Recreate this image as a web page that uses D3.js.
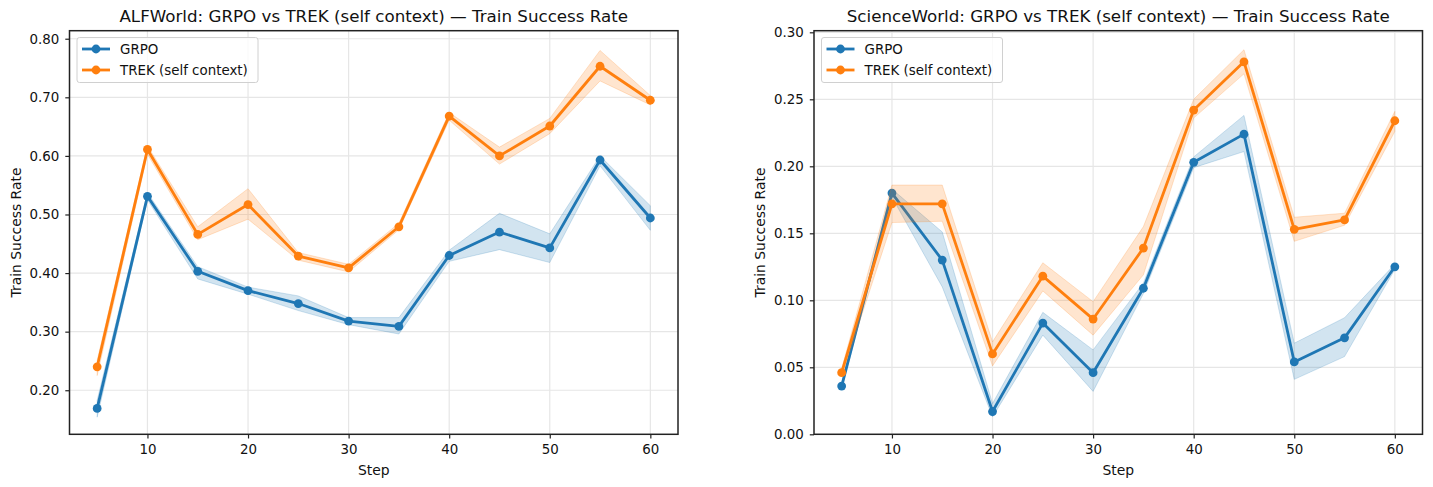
<!DOCTYPE html>
<html>
<head>
<meta charset="utf-8">
<script src="https://cdn.jsdelivr.net/npm/d3@7"></script>
<style>
  body { margin: 0; background: #fff; }
  svg { font-family: "DejaVu Sans", sans-serif; }
</style>
</head>
<body>
<div id="chart"></div>
<script>
// training steps shared by both panels
var steps = [5, 10, 15, 20, 25, 30, 35, 40, 45, 50, 55, 60];

// ALFWorld
var alfGrpo   = [0.169, 0.531, 0.403, 0.370, 0.348, 0.318, 0.309, 0.430, 0.470, 0.443, 0.593, 0.494];
var alfGrpoLo = [0.154, 0.525, 0.390, 0.364, 0.336, 0.312, 0.296, 0.420, 0.440, 0.418, 0.583, 0.473];
var alfGrpoHi = [0.183, 0.537, 0.411, 0.376, 0.361, 0.324, 0.324, 0.439, 0.502, 0.467, 0.600, 0.515];
var alfTrek   = [0.240, 0.611, 0.466, 0.517, 0.429, 0.409, 0.479, 0.668, 0.600, 0.651, 0.753, 0.695];
var alfTrekLo = [0.225, 0.603, 0.457, 0.492, 0.422, 0.402, 0.474, 0.661, 0.586, 0.638, 0.728, 0.687];
var alfTrekHi = [0.251, 0.617, 0.479, 0.544, 0.435, 0.415, 0.485, 0.674, 0.615, 0.664, 0.780, 0.703];

// ScienceWorld
var sciGrpo   = [0.036, 0.180, 0.130, 0.017, 0.083, 0.046, 0.109, 0.203, 0.224, 0.054, 0.072, 0.125];
var sciGrpoLo = [0.034, 0.177, 0.110, 0.013, 0.074, 0.032, 0.105, 0.199, 0.211, 0.041, 0.058, 0.123];
var sciGrpoHi = [0.038, 0.183, 0.151, 0.023, 0.091, 0.063, 0.113, 0.207, 0.238, 0.068, 0.087, 0.127];
var sciTrek   = [0.046, 0.172, 0.172, 0.060, 0.118, 0.086, 0.139, 0.242, 0.278, 0.153, 0.160, 0.234];
var sciTrekLo = [0.043, 0.158, 0.159, 0.051, 0.107, 0.074, 0.119, 0.236, 0.269, 0.144, 0.156, 0.226];
var sciTrekHi = [0.049, 0.186, 0.186, 0.069, 0.128, 0.099, 0.155, 0.250, 0.287, 0.162, 0.165, 0.241];

var alfYTicks = [0.20, 0.30, 0.40, 0.50, 0.60, 0.70, 0.80];
var sciYTicks = [0.00, 0.05, 0.10, 0.15, 0.20, 0.25, 0.30];
var xTicks = [10, 20, 30, 40, 50, 60];

var seriesNames = ["GRPO", "TREK (self context)"];
var colors = ["#1f77b4", "#ff7f0e"];

var svg = d3.select("#chart")
    .append("svg")
    .attr("width", 1433)
    .attr("height", 487);

drawPanel({
  left: 69.5, top: 30.7, width: 608.5, height: 403.6,
  title: "ALFWorld: GRPO vs TREK (self context) \u2014 Train Success Rate",
  yDomain: [0.1248, 0.8137], yTicks: alfYTicks, ylabelX: 16,
  series: [
    {mean: alfGrpo, lo: alfGrpoLo, hi: alfGrpoHi},
    {mean: alfTrek, lo: alfTrekLo, hi: alfTrekHi}
  ]
});

drawPanel({
  left: 814, top: 30.7, width: 608.5, height: 403.6,
  title: "ScienceWorld: GRPO vs TREK (self context) \u2014 Train Success Rate",
  yDomain: [0, 0.3012], yTicks: sciYTicks, ylabelX: 760,
  series: [
    {mean: sciGrpo, lo: sciGrpoLo, hi: sciGrpoHi},
    {mean: sciTrek, lo: sciTrekLo, hi: sciTrekHi}
  ]
});

function drawPanel(p) {

  var g = svg.append("g")
      .attr("transform", "translate(" + p.left + "," + p.top + ")");

  var xScale = d3.scaleLinear()
      .domain([2.25, 62.75])
      .range([0, p.width]);

  var yScale = d3.scaleLinear()
      .domain(p.yDomain)
      .range([p.height, 0]);

  // grid
  g.append("g").selectAll("line.gx")
      .data(xTicks)
      .enter().append("line")
      .attr("x1", function(d) { return xScale(d); })
      .attr("x2", function(d) { return xScale(d); })
      .attr("y1", 0)
      .attr("y2", p.height)
      .attr("stroke", "#e6e6e6")
      .attr("stroke-width", 1.2);

  g.append("g").selectAll("line.gy")
      .data(p.yTicks)
      .enter().append("line")
      .attr("x1", 0)
      .attr("x2", p.width)
      .attr("y1", function(d) { return yScale(d); })
      .attr("y2", function(d) { return yScale(d); })
      .attr("stroke", "#e6e6e6")
      .attr("stroke-width", 1.2);

  var area = d3.area()
      .x(function(d, i) { return xScale(steps[i]); })
      .y0(function(d) { return yScale(d[0]); })
      .y1(function(d) { return yScale(d[1]); });

  var line = d3.line()
      .x(function(d, i) { return xScale(steps[i]); })
      .y(function(d) { return yScale(d); });

  p.series.forEach(function(s, k) {
    var band = s.lo.map(function(v, i) { return [v, s.hi[i]]; });

    g.append("path")
        .attr("d", area(band))
        .attr("fill", colors[k])
        .attr("fill-opacity", 0.2)
        .attr("stroke", colors[k])
        .attr("stroke-opacity", 0.2)
        .attr("stroke-width", 1);

    g.append("path")
        .attr("d", line(s.mean))
        .attr("fill", "none")
        .attr("stroke", colors[k])
        .attr("stroke-width", 2.8)
        .attr("stroke-linejoin", "round");

    g.append("g").selectAll("circle")
        .data(s.mean)
        .enter().append("circle")
        .attr("cx", function(d, i) { return xScale(steps[i]); })
        .attr("cy", function(d) { return yScale(d); })
        .attr("r", 4.4)
        .attr("fill", colors[k]);
  });

  // axes
  var xAxis = g.append("g")
      .attr("transform", "translate(0," + p.height + ")")
      .call(d3.axisBottom(xScale).tickValues(xTicks).tickSize(4.2).tickPadding(6));

  var yAxis = g.append("g")
      .call(d3.axisLeft(yScale).tickValues(p.yTicks).tickFormat(d3.format(".2f")).tickSize(4.2).tickPadding(6));

  [xAxis, yAxis].forEach(function(a) {
    a.select(".domain").remove();
    a.selectAll(".tick line").attr("stroke", "#222").attr("stroke-width", 1.2);
    a.selectAll("text").attr("font-size", 13.4).attr("fill", "#111")
        .attr("font-family", "DejaVu Sans, sans-serif");
  });

  // frame
  g.append("rect")
      .attr("width", p.width)
      .attr("height", p.height)
      .attr("fill", "none")
      .attr("stroke", "#222")
      .attr("stroke-width", 1.5);

  // title and labels
  svg.append("text")
      .attr("x", p.left + p.width / 2)
      .attr("y", 22)
      .attr("text-anchor", "middle")
      .attr("font-size", 16.7)
      .attr("fill", "#111")
      .text(p.title);

  svg.append("text")
      .attr("x", p.left + p.width / 2)
      .attr("y", 475)
      .attr("text-anchor", "middle")
      .attr("font-size", 13.9)
      .attr("fill", "#111")
      .text("Step");

  svg.append("text")
      .attr("transform", "translate(" + p.ylabelX + "," + (p.top + p.height / 2) + ") rotate(-90)")
      .attr("text-anchor", "middle")
      .attr("dy", "0.35em")
      .attr("font-size", 13.9)
      .attr("fill", "#111")
      .text("Train Success Rate");

  // legend
  var leg = g.append("g").attr("transform", "translate(7.5,6.8)");

  leg.append("rect")
      .attr("width", 181)
      .attr("height", 45)
      .attr("rx", 2.5)
      .attr("fill", "#fff")
      .attr("fill-opacity", 0.8)
      .attr("stroke", "#d0d0d0")
      .attr("stroke-width", 1);

  seriesNames.forEach(function(name, k) {
    var y = 11.5 + k * 21;
    leg.append("line")
        .attr("x1", 5).attr("x2", 33)
        .attr("y1", y).attr("y2", y)
        .attr("stroke", colors[k])
        .attr("stroke-width", 2.8);
    leg.append("circle")
        .attr("cx", 19).attr("cy", y)
        .attr("r", 4.4)
        .attr("fill", colors[k]);
    leg.append("text")
        .attr("x", 43)
        .attr("y", y)
        .attr("dy", "0.35em")
        .attr("font-size", 13.4)
        .attr("fill", "#111")
        .text(name);
  });
}
</script>
</body>
</html>
